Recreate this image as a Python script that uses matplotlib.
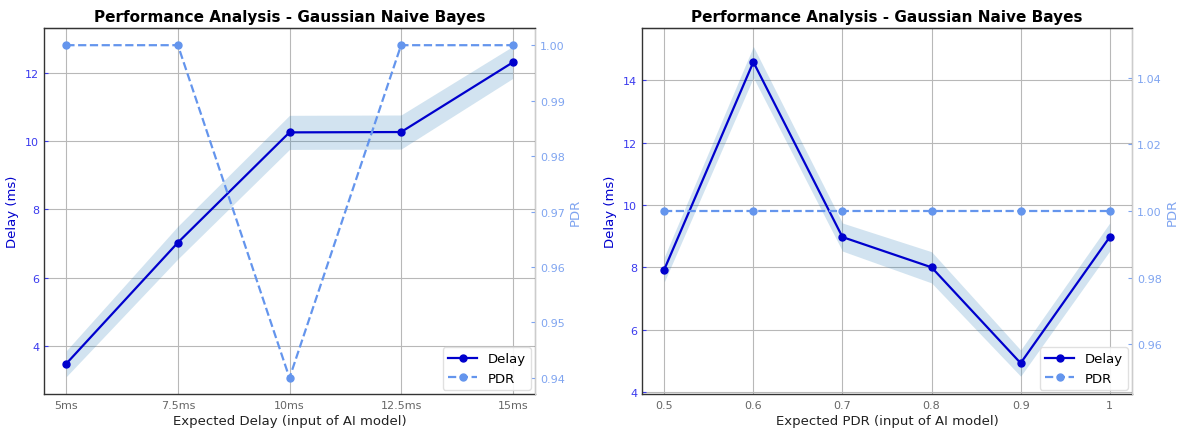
import matplotlib
matplotlib.use("Agg")
import matplotlib.pyplot as plt
import numpy as np

# Left chart data
delay_labels = ["5ms", "7.5ms", "10ms", "12.5ms", "15ms"]
delay_measured_1 = [3.48, 7.03, 10.26, 10.27, 12.31]
delay_band_1 = [0.38, 0.48, 0.5, 0.5, 0.47]
pdr_1 = [1.0, 1.0, 0.94, 1.0, 1.0]

# Right chart data
pdr_inputs = [0.5, 0.6, 0.7, 0.8, 0.9, 1.0]
pdr_labels = ["0.5", "0.6", "0.7", "0.8", "0.9", "1"]
delay_measured_2 = [7.93, 14.58, 8.97, 8.0, 4.93, 8.97]
delay_band_2 = [0.4, 0.5, 0.45, 0.5, 0.42, 0.45]
pdr_2 = [1.0, 1.0, 1.0, 1.0, 1.0, 1.0]

DELAY_C = "#0000cd"
PDR_C = "cornflowerblue"
LEFT_TICK_C = "#3a3aee"
RIGHT_TICK_C = "#7fa4f0"

fig = plt.figure(figsize=(11.81, 4.31), dpi=100)
ax_a = fig.add_axes([44/1181, 1-395/431, (535-44)/1181, (395-29)/431])
ax_b = fig.add_axes([642/1181, 1-395/431, (1132-642)/1181, (395-29)/431])


def draw(ax, x, xt, xl, d, band, p, xlabel, ylim1, ylim2, xlim):
    d = np.array(d); band = np.array(band)
    ax.fill_between(x, d - band, d + band, color="C0", alpha=0.2, linewidth=0)
    l1, = ax.plot(x, d, "-o", color=DELAY_C, lw=1.6, ms=5, label="Delay")
    ax.set_ylim(*ylim1)
    ax.set_xlim(*xlim)
    ax.set_xticks(xt)
    ax.set_xticklabels(xl)
    ax.grid(True, color="#b8b8b8", lw=0.8)
    ax.set_axisbelow(True)
    ax.set_xlabel(xlabel, fontsize=9.5, color="#222222", labelpad=3)
    ax.set_ylabel("Delay (ms)", fontsize=9.5, color=DELAY_C, labelpad=4)
    ax.tick_params(axis="y", colors=LEFT_TICK_C, labelsize=8, length=3,
                   width=0.8, direction="in")
    ax.tick_params(axis="x", colors="#666666", labelsize=8, length=0, pad=4)
    for s in ["left", "bottom", "top"]:
        ax.spines[s].set_color("#333333")
        ax.spines[s].set_linewidth(1.0)
    ax2 = ax.twinx()
    l2, = ax2.plot(x, p, "--o", color=PDR_C, lw=1.6, ms=5, label="PDR")
    ax2.set_ylim(*ylim2)
    ax2.set_ylabel("PDR", fontsize=9.5, color=RIGHT_TICK_C, labelpad=3)
    ax2.tick_params(axis="y", colors=RIGHT_TICK_C, labelsize=8, length=3,
                    width=0.8, direction="in")
    ax2.spines["right"].set_color("#cccccc")
    ax2.spines["top"].set_color("#333333")
    ax2.spines["left"].set_visible(False)
    ax2.spines["bottom"].set_visible(False)
    ax.set_title("Performance Analysis - Gaussian Naive Bayes", fontsize=11,
                 fontweight="bold", pad=5)
    ax2.legend([l1, l2], ["Delay", "PDR"], loc="lower right", fontsize=9.5,
               framealpha=0.9, edgecolor="#dddddd", borderaxespad=0.3,
               handlelength=2.2)
    return ax2


xa = np.arange(len(delay_labels))
draw(ax_a, xa, xa, delay_labels, delay_measured_1, delay_band_1, pdr_1,
     "Expected Delay (input of AI model)", (2.59, 13.32), (0.9371, 1.0031), (-0.2, 4.2))
draw(ax_b, pdr_inputs, pdr_inputs, pdr_labels, delay_measured_2, delay_band_2, pdr_2,
     "Expected PDR (input of AI model)", (3.94, 15.67), (0.945, 1.055), (0.475, 1.025))

fig.savefig("out.png", dpi=100)
